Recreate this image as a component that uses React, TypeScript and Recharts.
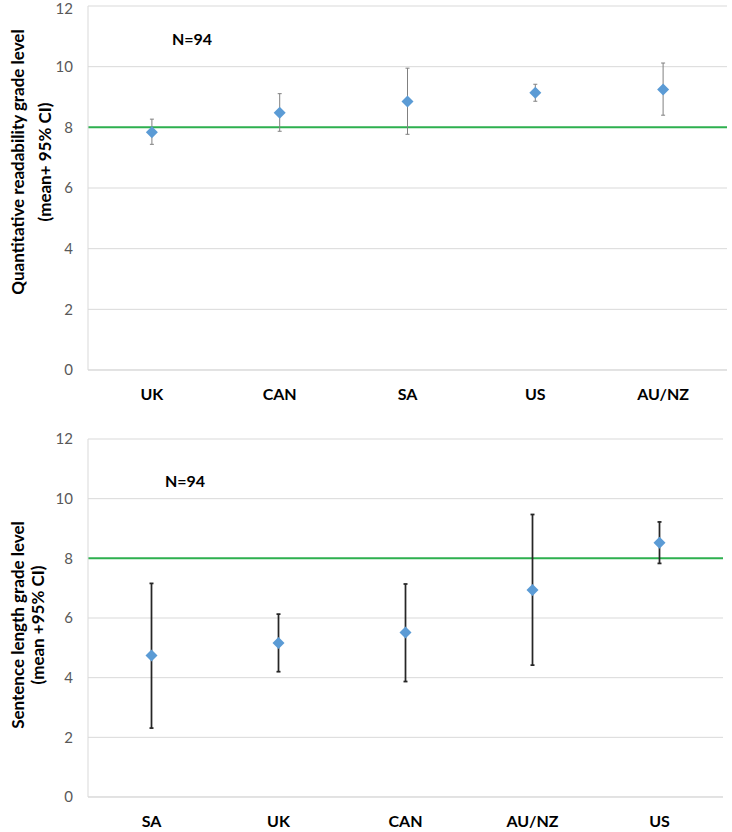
import {
  CartesianGrid,
  ComposedChart,
  ErrorBar,
  ReferenceLine,
  Scatter,
  XAxis,
  YAxis,
} from "recharts";

const readabilityCountries = ["UK", "CAN", "SA", "US", "AU/NZ"];
const readabilityMean = [7.84, 8.48, 8.85, 9.14, 9.25];
const readabilityLow = [7.44, 7.87, 7.77, 8.86, 8.4];
const readabilityHigh = [8.27, 9.11, 9.95, 9.42, 10.12];

const sentenceCountries = ["SA", "UK", "CAN", "AU/NZ", "US"];
const sentenceMean = [4.74, 5.16, 5.51, 6.94, 8.52];
const sentenceLow = [2.31, 4.2, 3.87, 4.42, 7.83];
const sentenceHigh = [7.16, 6.13, 7.14, 9.47, 9.22];

const yTicks = [0, 2, 4, 6, 8, 10, 12];
const targetGrade = 8;
const sampleLabel = "N=94";

const FONT = "Lato, 'Open Sans', sans-serif";
const GRID = "#d9d9d9";
const BLUE = "#5b9bd5";
const GREEN = "#2eb04f";

type Row = { pos: number; mean: number; err: [number, number] };

function buildRows(mean: number[], low: number[], high: number[]): Row[] {
  return mean.map((m, i) => ({
    pos: i + 0.5,
    mean: m,
    err: [m - low[i], high[i] - m],
  }));
}

function Diamond(props: any) {
  const { cx, cy } = props;
  if (cx == null || cy == null) return null;
  const r = 6;
  return (
    <path
      d={`M${cx},${cy - r}L${cx + r},${cy}L${cx},${cy + r}L${cx - r},${cy}Z`}
      fill={BLUE}
    />
  );
}

type PanelProps = {
  countries: string[];
  mean: number[];
  low: number[];
  high: number[];
  height: number;
  margin: { top: number; right: number; left: number; bottom: number };
  labelHeight: number;
  title: [string, string];
  titleX: [number, number];
  titleY: number;
  noteX: number;
  noteY: number;
  barColor: string;
  barWidth: number;
};

function Panel(p: PanelProps) {
  const rows = buildRows(p.mean, p.low, p.high);
  const bounds = p.countries.map((_, i) => i).concat(p.countries.length);
  const centers = p.countries.map((_, i) => i + 0.5);

  return (
    <div style={{ position: "relative", width: 732, height: p.height }}>
      <ComposedChart width={732} height={p.height} data={rows} margin={p.margin}>
        <CartesianGrid horizontal vertical={false} stroke={GRID} xAxisId="grid" />
        <XAxis
          xAxisId="grid"
          type="number"
          dataKey="pos"
          domain={[0, p.countries.length]}
          ticks={bounds}
          allowDataOverflow
          tick={false}
          tickSize={7}
          height={8}
          stroke={GRID}
        />
        <XAxis
          xAxisId="labels"
          type="number"
          dataKey="pos"
          domain={[0, p.countries.length]}
          ticks={centers}
          allowDataOverflow
          tickFormatter={(v: number) => p.countries[Math.floor(v)]}
          axisLine={false}
          tickLine={false}
          tickMargin={5}
          height={p.labelHeight}
          tick={{ fill: "#000", fontSize: 16, fontWeight: 700, fontFamily: FONT }}
          interval={0}
        />
        <YAxis
          type="number"
          domain={[0, 12]}
          ticks={yTicks}
          width={88}
          stroke={GRID}
          tickLine={false}
          tickMargin={9}
          tick={{ fill: "#595959", fontSize: 15, fontFamily: FONT }}
          label={{
            content: () => (
              <g>
                {p.title.map((line, i) => (
                  <text
                    key={i}
                    transform={`translate(${p.titleX[i]},${p.titleY}) rotate(-90)`}
                    textAnchor="middle"
                    dominantBaseline="central"
                    fontFamily={FONT}
                    fontSize={17}
                    fontWeight={700}
                    fill="#000"
                  >
                    {line}
                  </text>
                ))}
              </g>
            ),
          }}
        />
        <ReferenceLine
          xAxisId="grid"
          y={targetGrade}
          stroke={GREEN}
          strokeWidth={2}
          ifOverflow="extendDomain"
        />
        <Scatter
          xAxisId="grid"
          dataKey="mean"
          fill={BLUE}
          shape={Diamond}
          isAnimationActive={false}
        >
          <ErrorBar
            dataKey="err"
            direction="y"
            width={2}
            stroke={p.barColor}
            strokeWidth={p.barWidth}
            isAnimationActive={false}
          />
        </Scatter>
      </ComposedChart>
      <div
        style={{
          position: "absolute",
          left: p.noteX,
          top: p.noteY,
          transform: "translate(-50%, -50%)",
          fontFamily: FONT,
          fontSize: 16,
          fontWeight: 700,
          color: "#000",
          whiteSpace: "nowrap",
        }}
      >
        {sampleLabel}
      </div>
    </div>
  );
}

export default function App() {
  return (
    <div style={{ width: 732, height: 832, background: "#fff" }}>
      <style>{"body{margin:0}"}</style>
      <Panel
        countries={readabilityCountries}
        mean={readabilityMean}
        low={readabilityLow}
        high={readabilityHigh}
        height={410}
        margin={{ top: 6, right: 5, left: 0, bottom: 0 }}
        labelHeight={32}
        title={["Quantitative readability grade level", "(mean+ 95% CI)"]}
        titleX={[17, 44]}
        titleY={162}
        noteX={192}
        noteY={38}
        barColor="#808080"
        barWidth={1}
      />
      <Panel
        countries={sentenceCountries}
        mean={sentenceMean}
        low={sentenceLow}
        high={sentenceHigh}
        height={422}
        margin={{ top: 29, right: 9, left: 0, bottom: 0 }}
        labelHeight={27}
        title={["Sentence length grade level", "(mean +95% CI)"]}
        titleX={[17, 37]}
        titleY={215}
        noteX={185}
        noteY={70}
        barColor="#262626"
        barWidth={1.75}
      />
    </div>
  );
}
